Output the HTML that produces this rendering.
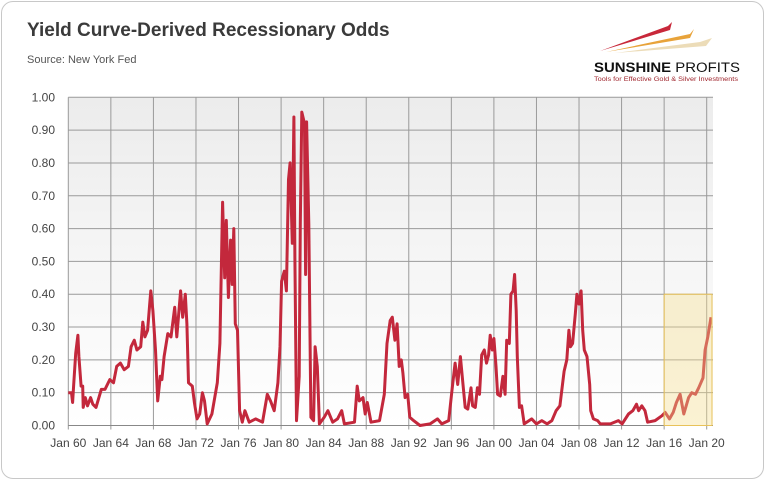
<!DOCTYPE html>
<html><head><meta charset="utf-8">
<style>
body{margin:0;background:#fff;font-family:"Liberation Sans",sans-serif;}
#card{position:absolute;left:1px;top:1px;width:761px;height:476px;border:1px solid #c8c8c8;border-radius:12px;background:#fff;}
</style></head>
<body>
<div id="card"></div>
<svg id="chart" width="765" height="480" style="position:absolute;left:0;top:0">
<defs>
<linearGradient id="bg" x1="0" y1="0" x2="0" y2="1">
<stop offset="0" stop-color="#ececec"/><stop offset="1" stop-color="#ffffff"/>
</linearGradient>
</defs>
<text x="27" y="36" font-size="19" font-weight="bold" fill="#3a3a3a">Yield Curve-Derived Recessionary Odds</text>
<text x="27" y="63" font-size="11" fill="#555">Source: New York Fed</text>
<g>
<polygon points="600,51 668,26 672,22 670,30" fill="#c8283a"/>
<polygon points="606,52 690,34 694,29 690,38" fill="#e8a33a"/>
<polygon points="615,53 700,42 712,38 706,46" fill="#ecdcb8"/>
<text x="594" y="72" font-size="13.5" font-weight="bold" fill="#111" textLength="146" lengthAdjust="spacingAndGlyphs">SUNSHINE <tspan font-weight="normal">PROFITS</tspan></text>
<text x="594" y="81" font-size="6.5" fill="#a0262e" textLength="144" lengthAdjust="spacingAndGlyphs">Tools for Effective Gold &amp; Silver Investments</text>
</g>
<g id="plot"></g>
</svg>
<script>
const tickValues=[0,0.1,0.2,0.3,0.4,0.5,0.6,0.7,0.8,0.9,1.0];
const tickLabels=["0.00","0.10","0.20","0.30","0.40","0.50","0.60","0.70","0.80","0.90","1.00"];
const xTickYears=[1960,1964,1968,1972,1976,1980,1984,1988,1992,1996,2000,2004,2008,2012,2016,2020];
const xTickLabels=["Jan 60","Jan 64","Jan 68","Jan 72","Jan 76","Jan 80","Jan 84","Jan 88","Jan 92","Jan 96","Jan 00","Jan 04","Jan 08","Jan 12","Jan 16","Jan 20"];
const dates=[1960.0,1960.3,1960.4,1960.5,1960.7,1960.9,1961.0,1961.2,1961.35,1961.4,1961.6,1961.8,1962.1,1962.3,1962.6,1963.1,1963.45,1963.9,1964.25,1964.55,1964.9,1965.25,1965.65,1965.9,1966.2,1966.45,1966.8,1967.0,1967.2,1967.45,1967.65,1967.75,1967.95,1968.2,1968.4,1968.65,1968.8,1969.0,1969.35,1969.65,1970.0,1970.2,1970.55,1970.75,1971.0,1971.15,1971.3,1971.65,1971.85,1972.1,1972.35,1972.6,1972.8,1973.05,1973.5,1974.0,1974.25,1974.5,1974.7,1974.85,1975.05,1975.25,1975.4,1975.55,1975.7,1975.9,1976.1,1976.35,1976.6,1977.0,1977.6,1978.25,1978.7,1979.0,1979.35,1979.7,1979.9,1980.05,1980.3,1980.5,1980.7,1980.85,1981.05,1981.2,1981.3,1981.45,1981.7,1981.8,1981.95,1982.2,1982.3,1982.4,1982.6,1982.8,1983.05,1983.2,1983.4,1983.6,1984.05,1984.4,1984.85,1985.3,1985.7,1985.95,1986.9,1987.15,1987.35,1987.7,1987.9,1988.1,1988.45,1989.25,1989.7,1989.95,1990.25,1990.45,1990.7,1990.9,1991.1,1991.3,1991.45,1991.65,1991.9,1992.1,1992.45,1993.05,1994.0,1994.7,1995.1,1995.75,1996.05,1996.35,1996.6,1996.85,1997.1,1997.3,1997.55,1997.85,1998.0,1998.25,1998.45,1998.65,1998.85,1999.1,1999.3,1999.5,1999.65,1999.85,2000.0,2000.2,2000.35,2000.6,2000.85,2001.05,2001.2,2001.45,2001.6,2001.8,2001.95,2002.1,2002.2,2002.4,2002.6,2002.85,2003.55,2004.0,2004.5,2005.0,2005.45,2005.85,2006.2,2006.6,2006.85,2007.05,2007.2,2007.4,2007.65,2007.8,2008.0,2008.2,2008.35,2008.5,2008.75,2009.0,2009.1,2009.35,2009.75,2010.0,2010.95,2011.7,2012.05,2012.65,2013.05,2013.4,2013.6,2013.9,2014.2,2014.45,2015.15,2015.8,2016.1,2016.5,2016.85,2017.15,2017.5,2017.85,2018.3,2018.6,2018.95,2019.25,2019.65,2019.85,2020.1,2020.4];
const values=[0.10,0.10,0.07,0.12,0.22,0.275,0.21,0.12,0.12,0.055,0.085,0.06,0.085,0.065,0.055,0.11,0.11,0.14,0.13,0.18,0.19,0.17,0.18,0.24,0.26,0.23,0.24,0.315,0.27,0.29,0.37,0.41,0.35,0.23,0.075,0.15,0.14,0.21,0.28,0.27,0.36,0.27,0.41,0.33,0.40,0.31,0.13,0.12,0.07,0.02,0.035,0.10,0.075,0.005,0.035,0.13,0.25,0.68,0.45,0.625,0.39,0.565,0.43,0.60,0.31,0.29,0.045,0.01,0.045,0.01,0.02,0.01,0.095,0.075,0.045,0.13,0.24,0.44,0.47,0.41,0.75,0.80,0.555,0.94,0.51,0.015,0.15,0.615,0.955,0.92,0.46,0.925,0.615,0.025,0.015,0.24,0.18,0.005,0.025,0.045,0.01,0.02,0.045,0.005,0.01,0.12,0.075,0.085,0.035,0.07,0.01,0.015,0.095,0.25,0.32,0.33,0.26,0.31,0.18,0.20,0.16,0.085,0.095,0.025,0.015,0.0,0.005,0.02,0.005,0.015,0.105,0.19,0.125,0.21,0.125,0.055,0.05,0.115,0.06,0.055,0.115,0.095,0.215,0.23,0.19,0.215,0.275,0.23,0.265,0.18,0.095,0.09,0.15,0.095,0.26,0.25,0.40,0.41,0.46,0.35,0.21,0.055,0.06,0.005,0.02,0.005,0.015,0.005,0.015,0.045,0.06,0.165,0.20,0.29,0.24,0.25,0.34,0.40,0.37,0.41,0.29,0.23,0.21,0.125,0.045,0.02,0.015,0.005,0.005,0.015,0.005,0.035,0.045,0.065,0.045,0.06,0.045,0.01,0.015,0.03,0.04,0.02,0.04,0.07,0.095,0.035,0.085,0.10,0.095,0.115,0.145,0.23,0.27,0.33];
const highlightStart=2016, highlightEnd=2020.5, highlightTop=0.40;

const L=68.3,R=713,T=97.3,B=425.5;
const x=y=>L+(y-1960)*10.64;
const yv=v=>B-v*(B-T);
const NS="http://www.w3.org/2000/svg";
const g=document.getElementById('plot');
function mk(t,a){const e=document.createElementNS(NS,t);for(const k in a)e.setAttribute(k,a[k]);g.appendChild(e);return e;}
const bg=mk('rect',{x:L,y:T,width:R-L,height:B-T,fill:'url(#bg)'});


tickValues.forEach((v,i)=>{
  const ln=mk('line',{x1:L,x2:R,y1:yv(v),y2:yv(v),stroke:'#9a9a9a','stroke-width':1});
  
  
  const t=mk('text',{x:55,y:yv(v)+4,'font-size':12,'text-anchor':'end',fill:'#444'});
  t.textContent=tickLabels[i];
  
  
});
xTickYears.forEach((yr,i)=>{
  const ln=mk('line',{x1:x(yr),x2:x(yr),y1:T,y2:B+4,stroke:'#9a9a9a','stroke-width':1});
  
  
  const t=mk('text',{x:x(yr),y:447,'font-size':12,'text-anchor':'middle',fill:'#444'});
  t.textContent=xTickLabels[i];
  
  
});
const ax=mk('line',{x1:L,x2:R,y1:B,y2:B,stroke:'#888','stroke-width':1});


const pts=dates.map((d,i)=>x(d).toFixed(1)+','+yv(values[i]).toFixed(1)).join(' ');
const line=mk('polyline',{points:pts,fill:'none',stroke:'#c3283c','stroke-width':3,'stroke-linejoin':'round'});


const hl=mk('rect',{x:x(highlightStart),y:yv(highlightTop),width:x(highlightEnd)-x(highlightStart),height:yv(0)-yv(highlightTop),fill:'rgba(245,220,140,0.38)',stroke:'#e8c25a','stroke-width':1});


</script>
</body></html>
